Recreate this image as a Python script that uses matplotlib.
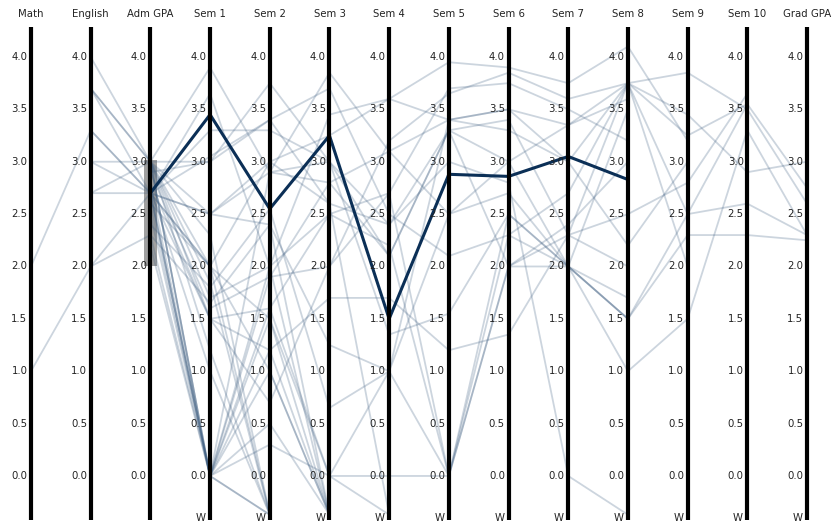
import numpy as np
import matplotlib.pyplot as plt
from matplotlib.patches import Rectangle

N = None   # no grade recorded
W = 'W'    # withdrawn
W_POS = -0.37

dims = ['Math', 'English', 'Adm GPA', 'Sem 1', 'Sem 2', 'Sem 3', 'Sem 4',
        'Sem 5', 'Sem 6', 'Sem 7', 'Sem 8', 'Sem 9', 'Sem 10', 'Grad GPA']
ticks = [0.0, 0.5, 1.0, 1.5, 2.0, 2.5, 3.0, 3.5, 4.0]

# one list per column, one entry per student
math = [2.0, 1.0, N, N, N,  N, N, N, N, N,  N, N, N, N, N,  N, N, N, N, N,
        N, N, N, N, N,  N, N, N, N, N,  N, N, N, N, N]
english = [3.3, 2.0, 4.0, 3.7, 3.7,  3.0, 2.7, 2.7, 2.0, 3.0,  3.7, 3.3, N, N, N,
           N, N, N, N, N,  N, N, N, N, N,  N, N, N, N, N,  N, N, N, N, N]
adm_gpa = [2.7, 2.7, 3.0, 3.0, 2.7,  3.0, 2.7, 3.0, 2.3, 2.7,  3.0, 2.7, 3.0, 2.7, 3.0,
           2.5, 2.8, 3.0, 2.6, 2.9,  2.7, 3.0, 2.4, 2.7, 3.0,  2.2, 2.75, 2.7, 3.0, 2.9,
           2.8, 3.0, 2.7, 2.3, 2.6]
sem1 = [2.5, 1.5, 0.0, 1.85, 3.05,  3.9, 0.0, 0.0, 1.65, 3.65,  3.0, 0.0, 2.0, 0.0, 1.2,
        0.0, 1.5, 2.5, 0.0, 1.6,  3.3, 0.0, 1.8, 2.0, 2.3,  0.0, 1.0, 2.0, 1.7, 3.0,
        0.0, 1.5, 2.5, 0.0, 2.0]
sem2 = [3.0, 0.7, 1.0, W, 3.4,  2.9, W, 1.5, 2.4, 2.0,  3.75, 0.3, W, 2.0, W,
        0.5, 1.2, 2.4, W, 1.9,  3.3, 1.6, 2.55, 1.0, W,  2.9, W, 1.5, 2.0, 3.4,
        1.9, 1.6, 2.9, 1.2, 3.0]
sem3 = [2.6, 2.0, W, N, 3.7,  2.8, N, 0.0, 1.25, 3.45,  3.0, 0.0, N, 2.5, N,
        W, 1.7, W, N, 2.8,  3.0, 0.0, 0.65, W, N,  3.85, N, W, W, 2.6,
        2.0, 2.5, 3.0, W, 3.25]
sem4 = [2.4, 3.2, N, N, 2.5,  3.1, N, 0.0, 1.0, 3.6,  1.35, 1.0, N, 2.7, N,
        N, 1.7, N, N, 2.1,  2.1, W, 1.0, N, N,  3.1, N, N, N, W,
        2.7, 2.2, 2.4, N, 3.6]
sem5 = [3.3, 3.65, N, N, 2.1,  3.4, N, 0.0, 2.5, 3.95,  1.55, 3.4, N, 3.7, N,
        N, 1.2, N, N, 3.3,  3.3, N, 0.0, N, N,  2.5, N, N, N, N,
        0.0, 0.0, 3.0, N, 3.4]
sem6 = [3.0, 3.85, N, N, 2.3,  3.5, N, 2.0, 2.7, 3.9,  2.5, 3.3, N, 3.75, N,
        N, 1.35, N, N, 2.0,  3.4, N, 2.3, N, N,  3.0, N, N, N, N,
        2.0, 2.5, 2.8, N, 3.5]
sem7 = [2.0, 3.6, N, N, 2.7,  3.35, N, 2.3, 2.0, 3.75,  2.0, 3.0, N, 3.5, N,
        N, 2.3, N, N, 2.4,  2.3, N, 2.0, N, N,  3.35, N, N, N, N,
        2.0, 2.0, 0.0, N, 3.0]
sem8 = [1.0, 3.75, N, N, 3.75,  3.75, N, 2.5, 1.5, 4.1,  1.7, 2.2, N, 3.2, N,
        N, 2.0, N, N, 3.0,  3.75, N, 1.5, N, N,  3.6, N, N, N, N,
        1.5, 3.5, W, N, 3.75]
sem9 = [1.5, 3.85, N, N, 3.25,  3.45, N, 2.8, 2.3, 3.2,  N, 3.0, N, N, N,
        N, N, N, N, N,  2.0, N, N, N, N,  N, N, N, N, N,
        2.5, N, N, N, 2.5]
sem10 = [3.3, 3.5, N, N, 3.55,  2.9, N, 3.65, 2.3, N,  N, N, N, N, N,
         N, N, N, N, N,  N, N, N, N, N,  N, N, N, N, N,
         3.55, N, N, N, 2.6]
grad_gpa = [2.3, 2.6, N, N, 2.75,  3.0, N, N, 2.25, N,  N, N, N, N, N,
            N, N, N, N, N,  N, N, N, N, N,  N, N, N, N, N,
            N, N, N, N, 2.3]

selected = [N, N, 2.7, 3.45, 2.55, 3.25, 1.5, 2.88, 2.86, 3.05, 2.83, N, N, N]

# brushed range on the Adm GPA axis
brush = (2.0, 3.02)

columns = [math, english, adm_gpa, sem1, sem2, sem3, sem4, sem5, sem6,
           sem7, sem8, sem9, sem10, grad_gpa]


def to_y(v):
    if v is None:
        return np.nan
    if v == W:
        return W_POS
    return v


students = np.array([[to_y(c[i]) for c in columns] for i in range(len(math))])
xs = np.arange(len(dims))

fig = plt.figure(figsize=(8.35, 5.23), dpi=100)
ax = fig.add_axes([0, 0, 1, 1])
ax.set_xlim(-0.519, 13.469)
ax.set_ylim(-0.449, 4.544)
ax.axis('off')

for row in students:
    ax.plot(xs, row, color='#3d5d80', alpha=0.26, lw=1.3, zorder=2,
            solid_capstyle='butt')

ax.plot(xs, [to_y(v) for v in selected], color='#0b2f56', lw=2.2, zorder=4)

ax.add_patch(Rectangle((2 - 0.107, brush[0]), 0.217, brush[1] - brush[0],
                       facecolor='#8f8f8f', alpha=0.85, edgecolor='none',
                       zorder=1.5))

for i, name in enumerate(dims):
    ax.plot([i, i], [-0.42, 4.29], color='black', lw=3, zorder=5,
            solid_capstyle='butt')
    ax.text(i, 4.41, name, ha='center', va='center', fontsize=7.3,
            color='#222222')
    for t in ticks:
        ax.text(i - 0.06, t, f'{t:.1f}', ha='right', va='center',
                fontsize=7.3, color='#222222', zorder=6)
    if i >= 3:
        ax.text(i - 0.07, -0.40, 'W', ha='right', va='center',
                fontsize=7.3, color='#222222', zorder=6)

fig.savefig('out.png', dpi=100)
